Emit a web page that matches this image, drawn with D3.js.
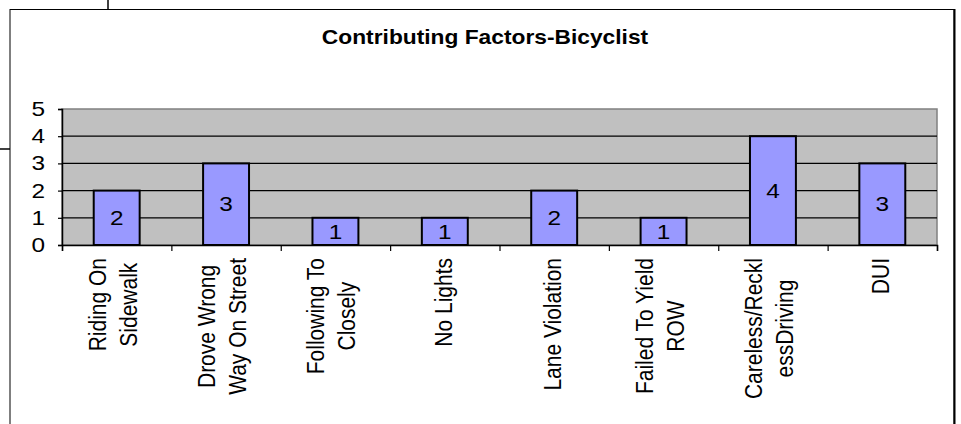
<!DOCTYPE html>
<html>
<head>
<meta charset="utf-8">
<script src="https://cdn.jsdelivr.net/npm/d3@7"></script>
<style>
  body { margin: 0; background: #fff; }
  svg text { font-family: Arial, "Liberation Sans", sans-serif; fill: #000; }
</style>
</head>
<body>
<div id="chart"></div>
<script>
// data
const categories = ["Riding On\nSidewalk", "Drove Wrong\nWay On Street", "Following To\nClosely", "No Lights",
  "Lane Violation", "Failed To Yield\nROW", "Careless/Reckl\nessDriving", "DUI"];
const counts = [2, 3, 1, 1, 2, 1, 4, 3];
const yTicks = [0, 1, 2, 3, 4, 5];
const chartTitle = "Contributing Factors-Bicyclist";

const W = 961, H = 424;
const SX = 1.15;    // text in the original is a bit wider than tall
const SXnum = 1.22; // digits even more so
const plot = {left: 62, right: 937, top: 109, bottom: 245};

const svg = d3.select("#chart").append("svg")
  .attr("width", W).attr("height", H);

// bits of stuff peeking out behind the chart
svg.append("line").attr("x1", 108).attr("x2", 108).attr("y1", 0).attr("y2", 9)
  .attr("stroke", "#000").attr("stroke-width", 1.5);
svg.append("line").attr("x1", 0).attr("x2", 10).attr("y1", 149).attr("y2", 149)
  .attr("stroke", "#000").attr("stroke-width", 1.5);

// chart box
svg.append("rect").attr("x", 10).attr("y", 9.5).attr("width", 944).attr("height", 440)
  .attr("fill", "#fff").attr("stroke", "#000").attr("stroke-width", 1);
svg.append("line").attr("x1", 954.5).attr("x2", 954.5).attr("y1", 9).attr("y2", H)
  .attr("stroke", "#000").attr("stroke-width", 2);

// title
svg.append("text")
  .attr("transform", `translate(485,44) scale(${SX},1)`)
  .attr("text-anchor", "middle")
  .style("font-size", "19.8px").style("font-weight", "bold")
  .text(chartTitle);

// scales
const x = d3.scaleBand().domain(categories).range([plot.left, plot.right]).padding(0);
const xEdge = d3.scaleLinear().domain([0, categories.length]).range([plot.left, plot.right]);
const y = d3.scaleLinear().domain([0, 5]).range([plot.bottom, plot.top]);

// plot background
svg.append("rect")
  .attr("x", plot.left).attr("y", plot.top)
  .attr("width", plot.right - plot.left).attr("height", plot.bottom - plot.top)
  .attr("fill", "#c0c0c0").attr("stroke", "#808080").attr("stroke-width", 1.5);

// gridlines
svg.append("g").selectAll("line")
  .data(yTicks.filter(d => d > 0 && d < 5))
  .join("line")
  .attr("x1", plot.left).attr("x2", plot.right)
  .attr("y1", d => y(d)).attr("y2", d => y(d))
  .attr("stroke", "#000").attr("stroke-width", 1.2);

// bars
const barW = x.bandwidth() * 0.42;
svg.append("g").selectAll("rect")
  .data(counts)
  .join("rect")
  .attr("x", (d, i) => x(categories[i]) + x.bandwidth() / 2 - barW / 2)
  .attr("y", d => y(d))
  .attr("width", barW)
  .attr("height", d => y(0) - y(d))
  .attr("fill", "#9999ff").attr("stroke", "#000").attr("stroke-width", 2);

// value labels in the middle of each bar
svg.append("g").selectAll("text")
  .data(counts)
  .join("text")
  .attr("transform", (d, i) => `translate(${x(categories[i]) + x.bandwidth() / 2},${(y(d) + y(0)) / 2}) scale(${SXnum},1)`)
  .attr("text-anchor", "middle")
  .attr("dy", "0.36em")
  .style("font-size", "20px")
  .text(d => d);

// y axis
const yAxis = svg.append("g")
  .attr("transform", `translate(${plot.left},0)`)
  .call(d3.axisLeft(y).tickValues(yTicks).tickSize(4).tickPadding(13).tickFormat(d3.format("d")));
yAxis.attr("font-family", null).attr("font-size", null);
yAxis.select(".domain").attr("stroke", "#000").attr("stroke-width", 1.5);
yAxis.selectAll(".tick line").attr("stroke", "#000").attr("stroke-width", 1.2);
yAxis.selectAll("text").style("font-size", "20px")
  .each(function () {
    const tx = +this.getAttribute("x");
    d3.select(this).attr("x", 0).attr("transform", `translate(${tx},0) scale(${SXnum},1)`);
  });

// x axis, ticks between categories
const xAxis = svg.append("g")
  .attr("transform", `translate(0,${plot.bottom})`)
  .call(d3.axisBottom(xEdge).ticks(categories.length).tickSize(6).tickFormat(""));
xAxis.select(".domain").attr("stroke", "#000").attr("stroke-width", 1.5);
xAxis.selectAll(".tick line").attr("stroke", "#000").attr("stroke-width", 1.2);

// rotated category labels, lines centred on each other, block hangs from yTop
const yTop = 258, lineGap = 31;
categories.forEach(cat => {
  const lines = cat.split("\n");
  const c = x(cat) + x.bandwidth() / 2;
  const g = svg.append("g")
    .attr("transform", `translate(${c},${yTop}) scale(${SX},1) rotate(-90)`);
  const texts = lines.map((ln, i) => {
    let off = lines.length === 1 ? 7 : 8 + (i - (lines.length - 1) / 2) * lineGap - 3.5;
    return g.append("text")
      .attr("y", off / SX)
      .attr("text-anchor", "middle")
      .style("font-size", "21px")
      .text(ln);
  });
  const L = d3.max(texts, t => t.node().getComputedTextLength());
  texts.forEach(t => t.attr("x", -L / 2));
});
</script>
</body>
</html>
